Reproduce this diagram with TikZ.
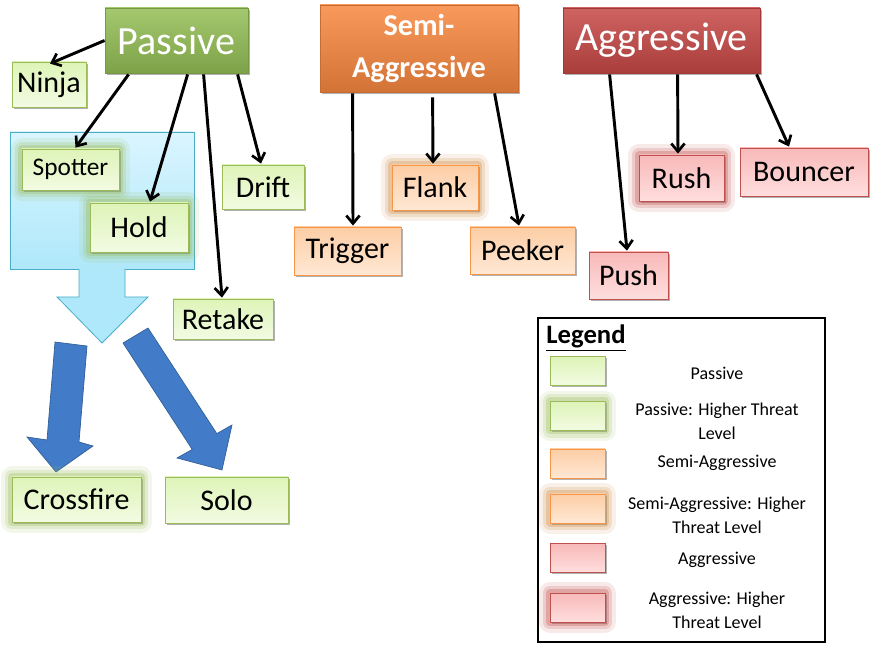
\documentclass[tikz,border=0pt]{standalone}
\usepackage{fontspec}
\setmainfont{Carlito}
\usepackage{tikz}
\usetikzlibrary{arrows.meta,positioning,calc,shadows}
\definecolor{pasc}{RGB}{155,187,89}
\definecolor{pasl}{RGB}{222,244,184}
\definecolor{pasw}{RGB}{242,251,226}
\definecolor{semc}{RGB}{247,150,70}
\definecolor{seml}{RGB}{252,205,165}
\definecolor{semw}{RGB}{255,232,212}
\definecolor{semg}{RGB}{205,140,70}
\definecolor{aggc}{RGB}{192,80,77}
\definecolor{aggl}{RGB}{248,185,185}
\definecolor{aggw}{RGB}{255,222,222}
\definecolor{zonec}{RGB}{75,172,198}
\definecolor{zonel}{RGB}{218,245,255}
\definecolor{zoned}{RGB}{175,232,250}
\definecolor{bluea}{RGB}{66,124,200}

\begin{document}
\begin{tikzpicture}[x=0.75pt, y=-0.75pt,
  sz/.style 2 args={minimum width=#1*0.75pt, minimum height=#2*0.75pt},
  shade/.style={drop shadow={shadow xshift=1.2pt, shadow yshift=-1.2pt, opacity=.3, fill=black}},
  kid/.style={draw, line width=0.6pt, inner sep=0pt, shade, font=\fontsize{22.5}{25}\selectfont},
  pbox/.style={kid, draw=pasc, top color=pasl, bottom color=pasw},
  sbox/.style={kid, draw=semc, top color=seml, bottom color=semw},
  abox/.style={kid, draw=aggc, top color=aggl, bottom color=aggw},
  glow/.style={preaction={draw=#1, line width=16pt, opacity=.12, line join=round},
               preaction={draw=#1, line width=11pt, opacity=.2, line join=round},
               preaction={draw=#1, line width=6pt, opacity=.3, line join=round}},
  pglow/.style={pbox, glow=pasc},
  sglow/.style={sbox, glow=semg},
  aglow/.style={abox, glow=aggc},
  head/.style={draw=#1!80!black, line width=0.6pt, inner sep=0pt, shade, text=white,
               top color=#1!85!white, bottom color=#1!85!black, font=\fontsize{30}{33}\selectfont},
  con/.style={-{Straight Barb[length=6pt, width=10pt, line width=2pt]}, line width=2.2pt},
  ltext/.style={align=center, font=\fontsize{13.5}{18}\selectfont},
]
% heads
\node[head=pasc!95!green, sz={143}{65}] (pas) at (176.5,40.5) {Passive};
\node[head=semc!90!red, sz={198}{87}, align=center, font=\bfseries\fontsize{22.7}{31}\selectfont] (semi) at (419,48.5) {Semi-\\Aggressive};
\node[head=aggc!90!red, sz={197}{65}] (agg) at (661.5,40.5) {Aggressive};
% zone with the passive pair
\node[draw=zonec, line width=0.6pt, top color=zonel, bottom color=zoned, sz={184}{137}] (zone) at (102,200.5) {};
\fill[zoned] (79,268.5) -- (79,297) -- (57,297) -- (102,343) -- (148,297) -- (125,297) -- (125,268.5) -- cycle;
\draw[zonec, line width=0.6pt] (79,269) -- (79,297) -- (57,297) -- (102,343) -- (148,297) -- (125,297) -- (125,269);
% blue arrows
\filldraw[fill=bluea, draw=bluea!75!black, line width=0.5pt] (55,342) -- (87,346) -- (79,442) -- (93,446) -- (56,472) -- (27,437) -- (47,440) -- cycle;
\filldraw[fill=bluea, draw=bluea!75!black, line width=0.5pt] (123,343) -- (148,328) -- (216.8,433.6) -- (232,425) -- (222,470) -- (177,458) -- (192.2,449.4) -- cycle;
% passive
\node[pbox, sz={74}{45}] (ninja) at (49,84.5) {Ninja};
\node[pglow, sz={97}{41}, font=\fontsize{19}{22}\selectfont] (spot) at (70.5,169.5) {Spotter};
\node[pglow, sz={98}{49}] (hold) at (139,227.5) {Hold};
\node[pbox, sz={82}{44}] (drift) at (263,187) {Drift};
\node[pbox, sz={100}{40}] (retake) at (223,319) {Retake};
\node[pglow, sz={129}{45}] (cross) at (76.5,499.5) {Crossfire};
\node[pbox, sz={123}{46}] (solo) at (226.5,500) {Solo};
% semi-aggressive
\node[sbox, sz={107}{48}] (trig) at (347.5,251) {Trigger};
\node[sglow, sz={86}{45}] (flank) at (435,187.5) {Flank};
\node[sbox, sz={105}{47}] (peek) at (522.5,250.5) {Peeker};
% aggressive
\node[aglow, sz={85}{46}] (rush) at (681.5,178) {Rush};
\node[abox, sz={128}{48}] (bounc) at (804,172) {Bouncer};
\node[abox, sz={79}{47}] (push) at (628.5,275.5) {Push};
% connectors
\draw[con] (pas.west) -- ($(ninja.north)+(1,2)$);
\foreach \s/\dx/\t/\ex in {pas/24/spot/5, pas/83/hold/11, pas/99/retake/-1, pas/133/drift/-2,
  semi/33/trig/5.5, semi/175/peek/-3.5, agg/47/push/-1.5, agg/115/rush/-3.5, agg/194/bounc/-15}
  \draw[con] ($(\s.south west)+(\dx,1)$) -- ($(\t.north)+(\ex,-1)$);
\draw[con] ($(semi.south west)+(113,5)$) -- ($(flank.north)+(-2,-1)$);
% legend
\node[draw, line width=0.8pt, sz={287}{324}] (leg) at (681.5,480) {};
\node[font=\bfseries\fontsize{20}{22}\selectfont, inner sep=0pt] (legt) at (586,338) {\underline{Legend}};
\foreach \yy/\st/\ty/\lab [count=\i] in {371/pbox/373/Passive, 416/pglow/421/{Passive: Higher Threat\\Level},
  463.5/sbox/463/Semi-Aggressive, 508.5/sglow/515/{Semi-Aggressive: Higher\\Threat Level},
  558/abox/560/Aggressive, 607.5/aglow/610.5/{Aggressive: Higher\\Threat Level}}{
  \node[\st, sz={55}{29}] (sw\i) at (577.5,\yy) {};
  \node[ltext] (lt\i) at (717,\ty) {\lab};
}
\useasboundingbox (0,0) rectangle (875,648);
\end{tikzpicture}
\end{document}
